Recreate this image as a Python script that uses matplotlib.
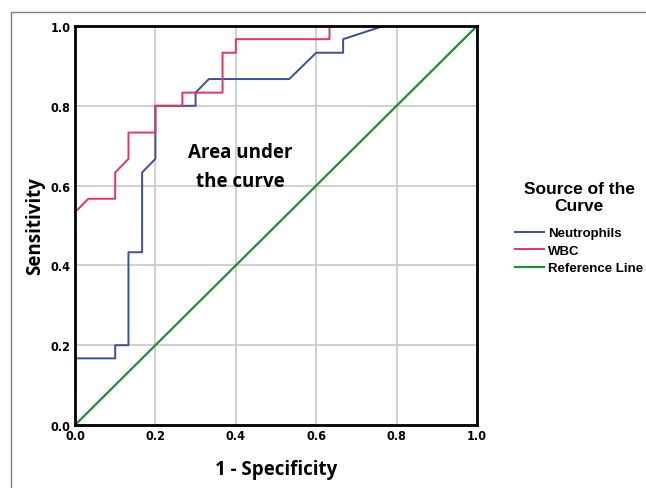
import matplotlib.pyplot as plt
from matplotlib.patches import Rectangle

# ROC curve points (1 - specificity, sensitivity)
neut_fpr = [0.0, 0.1, 0.1, 0.133, 0.133, 0.167, 0.167, 0.2, 0.2, 0.3, 0.3, 0.333,
            0.533, 0.6, 0.667, 0.667, 0.767, 1.0]
neut_tpr = [0.167, 0.167, 0.2, 0.2, 0.433, 0.433, 0.633, 0.667, 0.8, 0.8, 0.833, 0.867,
            0.867, 0.933, 0.933, 0.967, 1.0, 1.0]

wbc_fpr = [0.0, 0.033, 0.1, 0.1, 0.133, 0.133, 0.2, 0.2, 0.267, 0.267, 0.367, 0.367,
           0.4, 0.4, 0.633, 0.633, 1.0]
wbc_tpr = [0.533, 0.567, 0.567, 0.633, 0.667, 0.733, 0.733, 0.8, 0.8, 0.833, 0.833, 0.933,
           0.933, 0.967, 0.967, 1.0, 1.0]

ref_x = [0.0, 1.0]
ref_y = [0.0, 1.0]

ticks = [0.0, 0.2, 0.4, 0.6, 0.8, 1.0]
tick_labels = ["0.0", "0.2", "0.4", "0.6", "0.8", "1.0"]

blue = "#3a4f9c"
red = "#e8345c"
green = "#1f8f35"

fig = plt.figure(figsize=(6.46, 4.89), dpi=100)

# grey outer frame, runs off the right and bottom
fig.patches.append(Rectangle((11 / 646, -0.1), 1.2, 1 - 13 / 489 + 0.1,
                             transform=fig.transFigure, fill=False,
                             edgecolor="#808080", linewidth=1.0))

ax = fig.add_axes([75 / 646, 1 - 426 / 489, 402 / 646, 399 / 489])

ax.plot(neut_fpr, neut_tpr, color=blue, linewidth=1.4, label="Neutrophils")
ax.plot(wbc_fpr, wbc_tpr, color=red, linewidth=1.4, label="WBC")
ax.plot(ref_x, ref_y, color=green, linewidth=1.6, label="Reference Line")

ax.set_xlim(0, 1)
ax.set_ylim(0, 1)
ax.set_xticks(ticks)
ax.set_yticks(ticks)
ax.set_xticklabels(tick_labels)
ax.set_yticklabels(tick_labels)
ax.tick_params(length=0, pad=3)
for lab in ax.get_xticklabels() + ax.get_yticklabels():
    lab.set_family("DejaVu Sans")
    lab.set_stretch("condensed")
    lab.set_fontweight("bold")
    lab.set_fontsize(9)

ax.grid(True, color="#c8c8c8", linewidth=1.2)
ax.set_axisbelow(True)
for s in ax.spines.values():
    s.set_linewidth(2)
    s.set_color("black")

ax.set_xlabel("1 - Specificity", fontsize=13.5, fontweight="bold", family="Open Sans", labelpad=12)
ax.set_ylabel("Sensitivity", fontsize=13.5, fontweight="bold", family="Open Sans", labelpad=4)

ax.text(0.41, 0.648, "Area under\nthe curve", fontsize=13.5, fontweight="bold",
        family="Open Sans", ha="center", va="center", linespacing=1.6)

leg = fig.legend(loc="upper left", bbox_to_anchor=(510 / 646, 1 - 177 / 489),
                 frameon=False, title="Source of the\nCurve", handlelength=2.2,
                 handletextpad=0.3, labelspacing=0.4, borderaxespad=0,
                 prop={"weight": "bold", "size": 9.5, "family": "Liberation Sans"})
leg.get_title().set_fontweight("bold")
leg.get_title().set_fontsize(12.5)
leg.get_title().set_family("Liberation Sans")
leg.get_title().set_multialignment("center")
leg.get_title().set_linespacing(1.15)
leg._legend_box.sep = 10

fig.savefig("out.png", dpi=100)
